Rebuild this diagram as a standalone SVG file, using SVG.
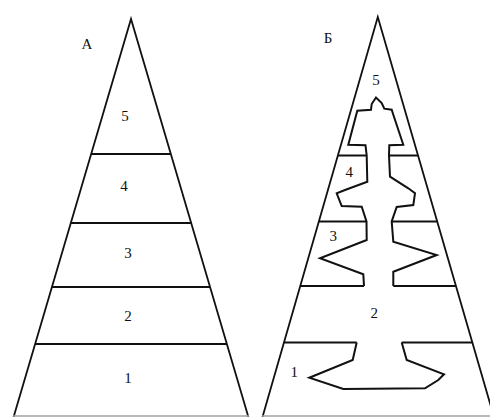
<svg xmlns="http://www.w3.org/2000/svg" width="490" height="417" viewBox="0 0 490 417">
<style>
.ln{fill:none;stroke:#111;stroke-width:2;stroke-linejoin:miter;stroke-linecap:butt}
.ed{fill:none;stroke:#111;stroke-width:1.8}
.base{fill:none;stroke:#a0a0a0;stroke-width:1.5}
.t{font-family:"Liberation Serif","Times New Roman",serif;font-size:15px;fill:#111;text-anchor:middle}
</style>
<rect width="490" height="417" fill="#fff"/>
<g id="triangle-a">
  <polyline class="ed" points="13.6,417 131,19 248.4,417"/>
  <line class="ln" x1="91.2" y1="154" x2="170.8" y2="154"/>
  <line class="ln" x1="70.8" y1="223" x2="191.2" y2="223"/>
  <line class="ln" x1="51.9" y1="287" x2="210.1" y2="287"/>
  <line class="ln" x1="35.1" y1="344" x2="226.9" y2="344"/>
  <line class="base" x1="13" y1="416" x2="249" y2="416"/>
  <text class="t" x="87" y="49">А</text>
  <text class="t" x="125" y="121">5</text>
  <text class="t" x="124" y="191">4</text>
  <text class="t" x="128" y="258">3</text>
  <text class="t" x="128" y="321">2</text>
  <text class="t" x="128" y="383">1</text>
</g>
<g id="triangle-b">
  <polyline class="ed" points="262.5,417 377.8,17 494,417"/>
  <line class="base" x1="262" y1="416" x2="490" y2="416"/>
  <!-- layer dividers -->
  <line class="ln" x1="337.8" y1="155.5" x2="366.7" y2="155.5"/>
  <line class="ln" x1="389" y1="155.5" x2="418.2" y2="155.5"/>
  <line class="ln" x1="318.9" y1="221.5" x2="366.5" y2="221.5"/>
  <line class="ln" x1="391.7" y1="221.5" x2="437.3" y2="221.5"/>
  <line class="ln" x1="300.4" y1="286" x2="364" y2="286"/>
  <line class="ln" x1="393.3" y1="286" x2="456" y2="286"/>
  <line class="ln" x1="284.2" y1="342.5" x2="356.7" y2="342.5"/>
  <line class="ln" x1="401.7" y1="342.5" x2="472.4" y2="342.5"/>
  <!-- cut-out outline -->
  <polyline class="ln" points="364,286 363.3,274.3 320,258.3 366.7,240 366.5,221.5 361.7,206.7 341.7,206 336.7,193.3 345,190 367.3,181.7 366.7,155.5 365.5,145.3 348.3,144.7 357.3,110.7 371,109.7 371.7,104 376,97.5 381.7,103 384.3,108.7 391.7,109.7 393.3,114.7 403.3,144.7 389.3,145.3 389,155.5 390,176.7 408.3,188.3 415,193.3 413.3,205 396.7,207 391.7,221.5 393.3,241.7 436.7,255 393.3,271.7 393.3,286"/>
  <polyline class="ln" points="356.7,342.5 352.7,360 309.3,377.7 343.3,389 425,388.3 438.3,380 444,374.3 406.7,360 401.7,342.5"/>
  <text class="t" x="328" y="43">Б</text>
  <text class="t" x="376" y="85">5</text>
  <text class="t" x="349.3" y="177">4</text>
  <text class="t" x="333.3" y="241">3</text>
  <text class="t" x="374.3" y="318">2</text>
  <text class="t" x="294.3" y="377">1</text>
</g>
</svg>
